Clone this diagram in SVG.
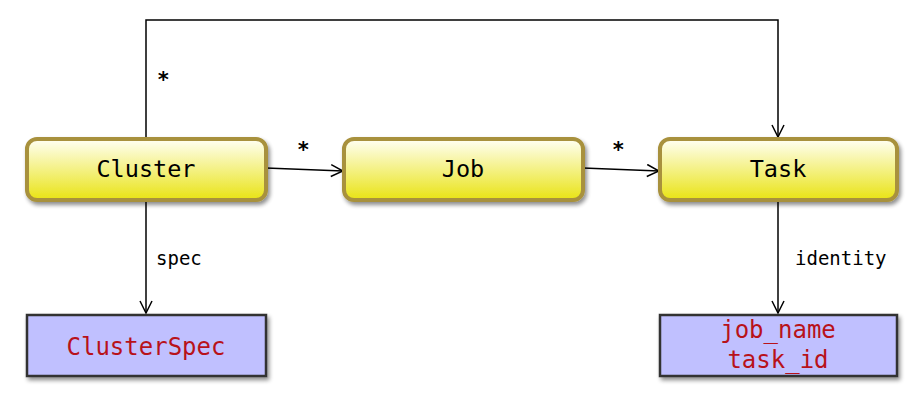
<svg xmlns="http://www.w3.org/2000/svg" width="924" height="400" viewBox="0 0 924 400">
<defs>
<linearGradient id="yg" x1="0" y1="0" x2="0" y2="1">
<stop offset="0" stop-color="#fffff4"/>
<stop offset="1" stop-color="#e9e314"/>
</linearGradient>
<filter id="sh" x="-10%" y="-20%" width="130%" height="160%">
<feGaussianBlur in="SourceAlpha" stdDeviation="2"/>
<feOffset dx="2" dy="3"/>
<feComponentTransfer><feFuncA type="linear" slope="0.45"/></feComponentTransfer>
<feMerge><feMergeNode/><feMergeNode in="SourceGraphic"/></feMerge>
</filter>
<marker id="ar" markerWidth="14" markerHeight="14" refX="13" refY="7" orient="auto" markerUnits="userSpaceOnUse">
<path d="M1,1 L13,7 L1,13" fill="none" stroke="#000" stroke-width="1.5"/>
</marker>
</defs>
<style>
.n{fill:url(#yg);stroke:#a8913c;stroke-width:4;filter:url(#sh)}
.d{fill:#c0c0ff;stroke:#333;stroke-width:2.5;filter:url(#sh)}
.t{font-family:"DejaVu Sans Mono","Liberation Mono",monospace;font-size:23.5px;fill:#000;text-anchor:middle}
.r{font-family:"DejaVu Sans Mono","Liberation Mono",monospace;font-size:24px;fill:#b8121a;text-anchor:middle}
.l{font-family:"DejaVu Sans Mono","Liberation Mono",monospace;font-size:19px;fill:#000}
.s{font-family:"DejaVu Sans Mono","Liberation Mono",monospace;font-size:21px;font-weight:bold;fill:#000}
.c{fill:none;stroke:#000;stroke-width:1.5}
</style>
<g id="connectors">
<path class="c" d="M146,138 V20 H778 V137" marker-end="url(#ar)"/>
<path class="c" d="M266,168 L343,171" marker-end="url(#ar)"/>
<path class="c" d="M583,168 L659,171" marker-end="url(#ar)"/>
<path class="c" d="M146,200 V313" marker-end="url(#ar)"/>
<path class="c" d="M778,200 V313" marker-end="url(#ar)"/>
<text class="s" x="157" y="87">*</text>
<text class="s" x="297" y="157">*</text>
<text class="s" x="612" y="157">*</text>
<text class="l" x="156" y="265">spec</text>
<text class="l" x="795" y="265">identity</text>
</g>
<g id="cluster">
<rect class="n" x="27" y="139" width="239" height="61" rx="10"/>
<text class="t" x="146" y="177">Cluster</text>
</g>
<g id="job">
<rect class="n" x="344" y="139" width="239" height="61" rx="10"/>
<text class="t" x="463" y="177">Job</text>
</g>
<g id="task">
<rect class="n" x="660" y="139" width="237" height="61" rx="10"/>
<text class="t" x="778" y="177">Task</text>
</g>
<g id="clusterspec">
<rect class="d" x="27" y="315" width="239" height="61"/>
<text class="r" x="146" y="355">ClusterSpec</text>
</g>
<g id="identity">
<rect class="d" x="660" y="315" width="237" height="61"/>
<text class="r" x="778" y="338">job_name</text>
<text class="r" x="778" y="368">task_id</text>
</g>
</svg>
